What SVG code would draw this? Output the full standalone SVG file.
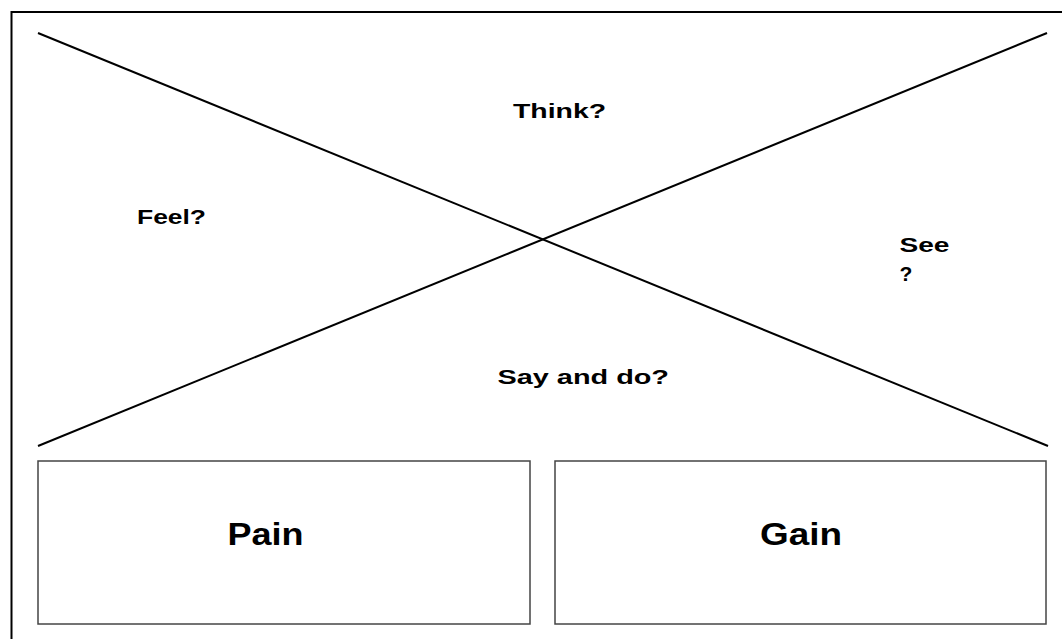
<svg xmlns="http://www.w3.org/2000/svg" width="1062" height="639" viewBox="0 0 1062 639">
<style>
.lbl{font-family:"Liberation Sans",Arial,sans-serif;font-weight:bold;fill:#000}
.s{font-size:21px}
.b{font-size:32px}
.box{fill:#fff;stroke:#444;stroke-width:1.5}
.ln{stroke:#000;stroke-width:2;fill:none}
</style>
<rect width="1062" height="639" fill="#fff"/>
<g id="frame"><path class="ln" d="M11.5 639 V12 H1062"/></g>
<g id="connectors">
<line class="ln" x1="38" y1="33" x2="1048" y2="446"/>
<line class="ln" x1="38" y1="446" x2="1047" y2="33"/>
</g>
<g id="think"><text class="lbl s" x="513" y="117.5" textLength="93" lengthAdjust="spacingAndGlyphs">Think?</text></g>
<g id="feel"><text class="lbl s" x="137" y="223.5" textLength="69" lengthAdjust="spacingAndGlyphs">Feel?</text></g>
<g id="see">
<text class="lbl s" x="899.5" y="252" textLength="50" lengthAdjust="spacingAndGlyphs">See</text>
<text class="lbl s" x="899.5" y="281">?</text>
</g>
<g id="saydo"><text class="lbl s" x="497.5" y="383.5" textLength="171.5" lengthAdjust="spacingAndGlyphs">Say and do?</text></g>
<g id="pain">
<rect class="box" x="38" y="461" width="492" height="163"/>
<text class="lbl b" x="227.5" y="545" textLength="76" lengthAdjust="spacingAndGlyphs">Pain</text>
</g>
<g id="gain">
<rect class="box" x="555" y="461" width="491" height="163"/>
<text class="lbl b" x="760" y="545" textLength="82" lengthAdjust="spacingAndGlyphs">Gain</text>
</g>
</svg>
